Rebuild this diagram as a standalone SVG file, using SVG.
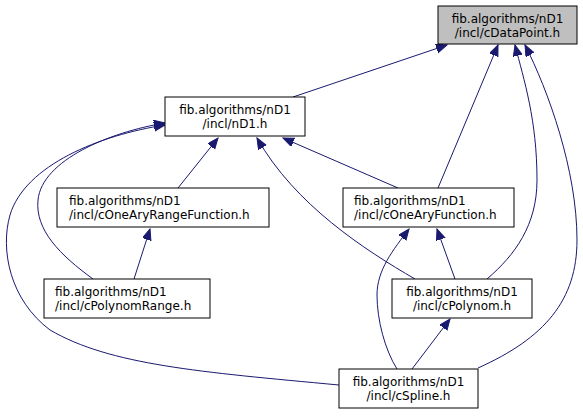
<svg xmlns="http://www.w3.org/2000/svg" width="583" height="416" viewBox="0 0 583 416">
<style>
.box{fill:#ffffff;stroke:#000000;stroke-width:1}
.root{fill:#bfbfbf}
.t{font-family:"DejaVu Sans",sans-serif;font-size:12px;fill:#000}
.c{text-anchor:middle}
.e{fill:none;stroke:#191970;stroke-width:1;marker-end:url(#arr)}
</style>
<defs>
<marker id="arr" markerUnits="userSpaceOnUse" markerWidth="12" markerHeight="10" refX="11" refY="4.5" orient="auto">
<path d="M0,0 L11,4.5 L0,9 z" fill="#191970" stroke="#191970"/>
</marker>
</defs>
<rect width="583" height="416" fill="#ffffff"/>
<g id="edges">
<path class="e" d="M293,97 L447,45"/>
<path class="e" d="M438,188 L498,45"/>
<path class="e" d="M487,279 C515,255 537,225 537,180 C537,120 524,80 515,45"/>
<path class="e" d="M478,368 C545,338 577,300 577,240 C577,170 548,90 525,45"/>
<path class="e" d="M178,188 L218,138"/>
<path class="e" d="M398,188 L283,138"/>
<path class="e" d="M415,279 C365,250 295,205 257,138"/>
<path class="e" d="M93,279 C60,255 35,230 38,200 C42,160 110,132 165,123"/>
<path class="e" d="M339,385 C200,372 110,365 50,330 C10,300 0,250 10,215 C25,165 100,135 165,125"/>
<path class="e" d="M134,279 L150,229"/>
<path class="e" d="M455,279 L437,229"/>
<path class="e" d="M397,369 C385,350 377,320 377,295 C377,270 393,250 409,229"/>
<path class="e" d="M412,369 L450,319"/>
</g>
<g id="cDataPoint">
<rect class="box root" x="438" y="6" width="139" height="38"/>
<text class="t c" x="507.5" y="23">fib.algorithms/nD1</text>
<text class="t c" x="507.5" y="37">/incl/cDataPoint.h</text>
</g>
<g id="nD1">
<rect class="box" x="165" y="97" width="140" height="39"/>
<text class="t c" x="235" y="114">fib.algorithms/nD1</text>
<text class="t c" x="235" y="128">/incl/nD1.h</text>
</g>
<g id="cOneAryRangeFunction">
<rect class="box" x="57" y="188" width="212" height="39"/>
<text class="t" x="69" y="205">fib.algorithms/nD1</text>
<text class="t" x="69" y="219">/incl/cOneAryRangeFunction.h</text>
</g>
<g id="cPolynomRange">
<rect class="box" x="44" y="279" width="166" height="39"/>
<text class="t" x="55" y="296">fib.algorithms/nD1</text>
<text class="t" x="55" y="310">/incl/cPolynomRange.h</text>
</g>
<g id="cOneAryFunction">
<rect class="box" x="343" y="188" width="171" height="39"/>
<text class="t" x="354" y="205">fib.algorithms/nD1</text>
<text class="t" x="354" y="219">/incl/cOneAryFunction.h</text>
</g>
<g id="cPolynom">
<rect class="box" x="392" y="279" width="140" height="39"/>
<text class="t c" x="462" y="296">fib.algorithms/nD1</text>
<text class="t c" x="462" y="310">/incl/cPolynom.h</text>
</g>
<g id="cSpline">
<rect class="box" x="339" y="369" width="139" height="39"/>
<text class="t c" x="408.5" y="386">fib.algorithms/nD1</text>
<text class="t c" x="408.5" y="400">/incl/cSpline.h</text>
</g>
</svg>
